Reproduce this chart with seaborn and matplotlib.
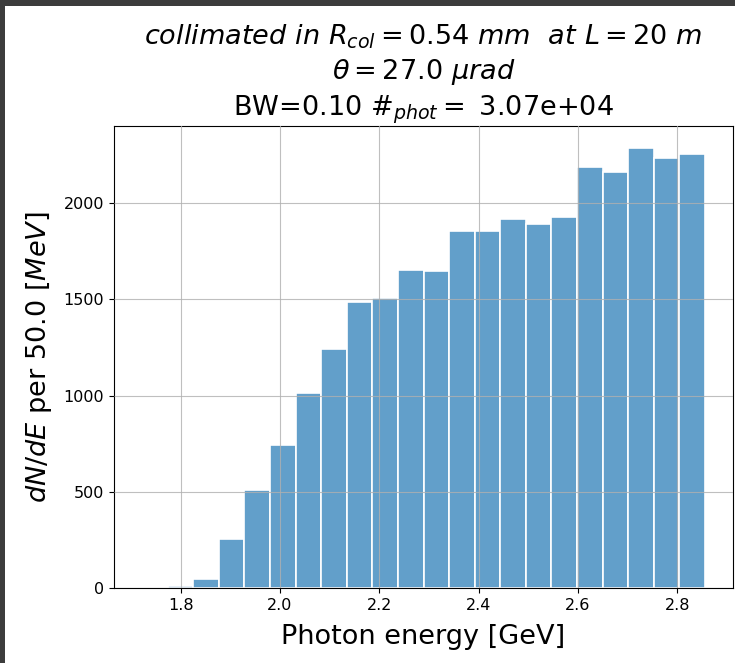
import numpy as np
import pandas as pd
import matplotlib
matplotlib.use("Agg")
import matplotlib.pyplot as plt
from matplotlib.patches import Rectangle
import seaborn as sns

# Photon spectrum after collimation: counts per energy bin
e_min, e_max = 1.7224, 2.8555  # GeV, histogram range
counts = [4, 10, 48, 257, 512, 746, 1013, 1243, 1485, 1506, 1655, 1649,
          1857, 1857, 1916, 1890, 1928, 2189, 2163, 2287, 2235, 2257]
n_phot = 3.07e4
bandwidth = 0.10
bin_mev = 50.0

edges = np.linspace(e_min, e_max, len(counts) + 1)
spectrum = pd.DataFrame({"energy": 0.5 * (edges[:-1] + edges[1:]),
                         "count": counts})

fig = plt.figure(figsize=(7.35, 6.63), dpi=100)
fig.patch.set_facecolor("white")
ax = fig.add_axes([0.1551, 0.1127, 0.8422, 0.6973])

sns.histplot(data=spectrum, x="energy", weights="count",
             bins=len(counts), binrange=(e_min, e_max), ax=ax,
             color="tab:blue", alpha=0.7, edgecolor="white", linewidth=1.2)

ax.grid(True, color="#b0b0b0", linewidth=0.8, alpha=0.8)
ax.set_axisbelow(False)
ax.tick_params(labelsize=11.5)

ax.set_xlabel("Photon energy [GeV]", fontsize=19.5, labelpad=8)
ax.set_ylabel(r"$dN/dE$ per %.1f [$MeV$]" % bin_mev, fontsize=19.5, labelpad=7)
ax.set_title(r"$collimated\ in\ R_{col}=0.54\ mm\ \ at\ L=20\ m$" "\n"
             r"$\theta=27.0\ \mu rad$" "\n"
             r"BW=%.2f $\#_{phot}=$ %.2e" % (bandwidth, n_phot),
             fontsize=19.5, pad=2, linespacing=1.3)

# dark window frame along the top and left edges
fig.patches.append(Rectangle((0, 1 - 6 / 663), 1, 6 / 663, transform=fig.transFigure,
                             facecolor="#3c3c3c", edgecolor="none", zorder=10))
fig.patches.append(Rectangle((0, 0), 5 / 735, 1, transform=fig.transFigure,
                             facecolor="#3c3c3c", edgecolor="none", zorder=10))

fig.savefig("out.png", dpi=100)
